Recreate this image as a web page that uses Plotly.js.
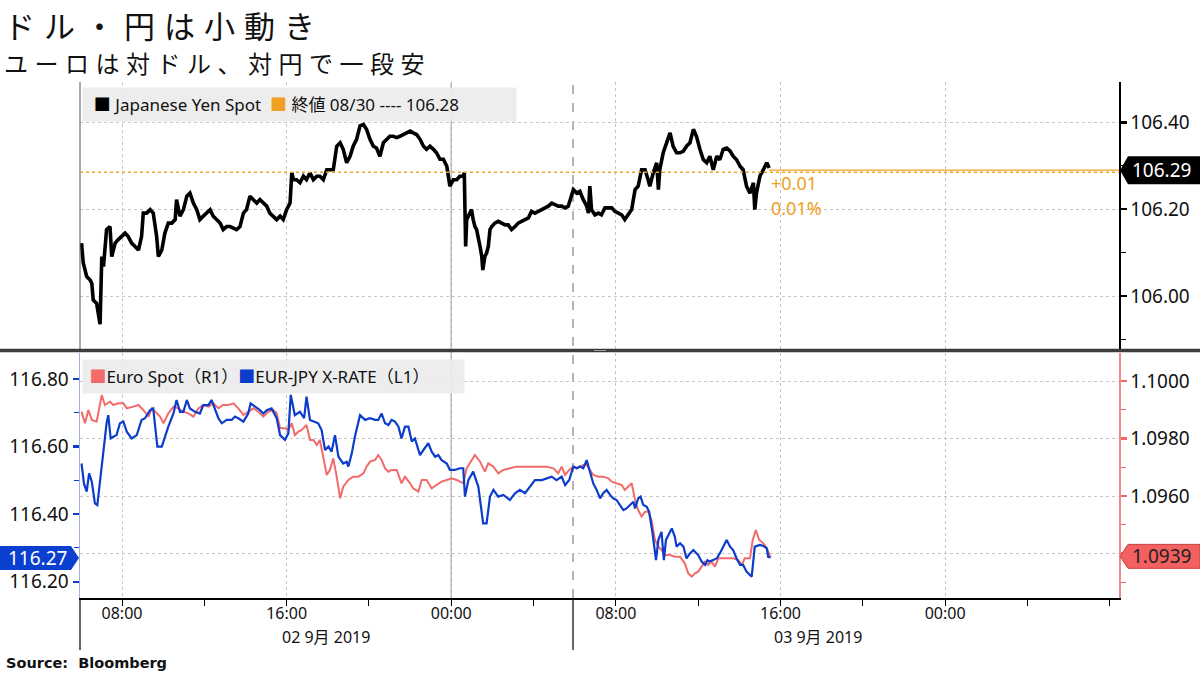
<!DOCTYPE html>
<html><head><meta charset="utf-8">
<script src="https://cdn.plot.ly/plotly-3.0.1.min.js"></script>
<style>html,body{margin:0;padding:0;background:#fff;}#chart{width:1200px;height:675px;}</style>
</head><body><div id="chart"></div>
<script>
// ---------------- DATA ----------------
const usdjpyTime = [
'2019-09-02 06:02','2019-09-02 06:07','2019-09-02 06:17','2019-09-02 06:27','2019-09-02 06:32','2019-09-02 06:36','2019-09-02 06:46','2019-09-02 06:56','2019-09-02 07:01','2019-09-02 07:06',
'2019-09-02 07:15','2019-09-02 07:25','2019-09-02 07:30','2019-09-02 07:40','2019-09-02 07:49','2019-09-02 07:59','2019-09-02 08:09','2019-09-02 08:18','2019-09-02 08:28','2019-09-02 08:38',
'2019-09-02 08:48','2019-09-02 08:57','2019-09-02 09:02','2019-09-02 09:12','2019-09-02 09:22','2019-09-02 09:31','2019-09-02 09:41','2019-09-02 09:46','2019-09-02 09:56','2019-09-02 10:05',
'2019-09-02 10:15','2019-09-02 10:25','2019-09-02 10:35','2019-09-02 10:39','2019-09-02 10:49','2019-09-02 10:59','2019-09-02 11:09','2019-09-02 11:18','2019-09-02 11:28','2019-09-02 11:38',
'2019-09-02 11:47','2019-09-02 11:57','2019-09-02 12:07','2019-09-02 12:17','2019-09-02 12:26','2019-09-02 12:36','2019-09-02 12:46','2019-09-02 12:55','2019-09-02 13:05','2019-09-02 13:15',
'2019-09-02 13:25','2019-09-02 13:34','2019-09-02 13:44','2019-09-02 13:54','2019-09-02 14:03','2019-09-02 14:13','2019-09-02 14:23','2019-09-02 14:33','2019-09-02 14:42','2019-09-02 14:52',
'2019-09-02 15:02','2019-09-02 15:11','2019-09-02 15:21','2019-09-02 15:31','2019-09-02 15:41','2019-09-02 15:50','2019-09-02 16:00','2019-09-02 16:10','2019-09-02 16:15','2019-09-02 16:20',
'2019-09-02 16:29','2019-09-02 16:39','2019-09-02 16:49','2019-09-02 16:58','2019-09-02 17:08','2019-09-02 17:18','2019-09-02 17:28','2019-09-02 17:37','2019-09-02 17:47','2019-09-02 17:57',
'2019-09-02 18:06','2019-09-02 18:16','2019-09-02 18:26','2019-09-02 18:36','2019-09-02 18:45','2019-09-02 18:55','2019-09-02 19:05','2019-09-02 19:14','2019-09-02 19:24','2019-09-02 19:34',
'2019-09-02 19:44','2019-09-02 19:53','2019-09-02 20:03','2019-09-02 20:13','2019-09-02 20:22','2019-09-02 20:32','2019-09-02 20:42','2019-09-02 20:52','2019-09-02 21:01','2019-09-02 21:11',
'2019-09-02 21:21','2019-09-02 21:30','2019-09-02 21:40','2019-09-02 21:50','2019-09-02 22:00','2019-09-02 22:09','2019-09-02 22:19','2019-09-02 22:29','2019-09-02 22:39','2019-09-02 22:48',
'2019-09-02 22:58','2019-09-02 23:08','2019-09-02 23:17','2019-09-02 23:27','2019-09-02 23:37','2019-09-02 23:47','2019-09-02 23:56',
'2019-09-03 00:06','2019-09-03 00:16','2019-09-03 00:25','2019-09-03 00:35','2019-09-03 00:38','2019-09-03 00:42','2019-09-03 00:45','2019-09-03 00:55','2019-09-03 00:59','2019-09-03 01:04',
'2019-09-03 01:09','2019-09-03 01:14','2019-09-03 01:19','2019-09-03 01:24','2019-09-03 01:29','2019-09-03 01:32','2019-09-03 01:38','2019-09-03 01:43','2019-09-03 01:48','2019-09-03 01:53',
'2019-09-03 01:58','2019-09-03 02:07','2019-09-03 02:17','2019-09-03 02:27','2019-09-03 02:37','2019-09-03 02:46','2019-09-03 02:56','2019-09-03 03:06','2019-09-03 03:15','2019-09-03 03:25',
'2019-09-03 03:35','2019-09-03 03:45','2019-09-03 03:54','2019-09-03 04:04','2019-09-03 04:14','2019-09-03 04:24','2019-09-03 04:33','2019-09-03 04:43','2019-09-03 04:53','2019-09-03 05:02',
'2019-09-03 05:12','2019-09-03 05:22','2019-09-03 05:32','2019-09-03 05:41','2019-09-03 05:51','2019-09-03 05:56','2019-09-03 06:06','2019-09-03 06:15','2019-09-03 06:25','2019-09-03 06:35',
'2019-09-03 06:40','2019-09-03 06:44','2019-09-03 06:49','2019-09-03 06:59','2019-09-03 07:09','2019-09-03 07:18','2019-09-03 07:28','2019-09-03 07:38','2019-09-03 07:48','2019-09-03 07:57',
'2019-09-03 08:07','2019-09-03 08:17','2019-09-03 08:26','2019-09-03 08:36','2019-09-03 08:46','2019-09-03 08:56','2019-09-03 09:05','2019-09-03 09:15','2019-09-03 09:25','2019-09-03 09:34',
'2019-09-03 09:39','2019-09-03 09:49','2019-09-03 09:59','2019-09-03 10:04','2019-09-03 10:08','2019-09-03 10:18','2019-09-03 10:28','2019-09-03 10:38','2019-09-03 10:47','2019-09-03 10:57',
'2019-09-03 11:07','2019-09-03 11:17','2019-09-03 11:26','2019-09-03 11:36','2019-09-03 11:46','2019-09-03 11:55','2019-09-03 12:05','2019-09-03 12:15','2019-09-03 12:25','2019-09-03 12:34',
'2019-09-03 12:44','2019-09-03 12:54','2019-09-03 13:03','2019-09-03 13:13','2019-09-03 13:23','2019-09-03 13:33','2019-09-03 13:42','2019-09-03 13:52','2019-09-03 14:02','2019-09-03 14:11',
'2019-09-03 14:21','2019-09-03 14:31','2019-09-03 14:41','2019-09-03 14:45','2019-09-03 14:50','2019-09-03 15:00','2019-09-03 15:10','2019-09-03 15:20','2019-09-03 15:27'
];
const usdjpyValue = [
106.122,106.076,106.045,106.037,106.029,105.991,105.983,105.935,106.091,106.068,
106.153,106.160,106.091,106.122,106.130,106.137,106.145,106.137,106.122,106.114,
106.106,106.137,106.191,106.191,106.199,106.191,106.137,106.091,106.106,106.145,
106.168,106.168,106.176,106.222,106.184,106.199,106.230,106.237,106.214,106.199,
106.176,106.184,106.191,106.199,106.184,106.176,106.168,106.153,106.160,106.160,
106.157,106.153,106.160,106.191,106.199,106.230,106.222,106.214,106.222,106.214,
106.207,106.191,106.184,106.176,106.184,106.176,106.199,106.214,106.284,106.268,
106.268,106.261,106.276,106.268,106.284,106.268,106.276,106.276,106.268,106.291,
106.291,106.291,106.345,106.353,106.338,106.307,106.322,106.345,106.361,106.392,
106.395,106.384,106.361,106.345,106.341,106.322,106.353,106.361,106.368,106.368,
106.365,106.368,106.372,106.376,106.380,106.376,106.372,106.361,106.345,106.338,
106.345,106.338,106.330,106.315,106.315,106.299,106.253,
106.268,106.268,106.276,106.276,106.284,106.114,106.176,106.191,106.199,106.176,
106.160,106.153,106.137,106.114,106.091,106.060,106.091,106.099,106.114,106.153,
106.160,106.168,106.172,106.168,106.164,106.164,106.153,106.160,106.168,106.172,
106.176,106.180,106.195,106.191,106.195,106.199,106.203,106.207,106.214,106.210,
106.207,106.207,106.203,106.207,106.237,106.245,106.237,106.241,106.222,106.207,
106.191,106.253,106.199,106.187,106.191,106.187,106.203,106.203,106.203,106.195,
106.191,106.187,106.176,106.187,106.199,106.245,106.253,106.291,106.291,106.268,
106.253,106.284,106.307,106.245,106.291,106.330,106.353,106.376,106.345,106.330,
106.330,106.334,106.345,106.353,106.384,106.368,106.338,106.314,106.307,106.322,
106.291,106.322,106.314,106.338,106.341,106.334,106.322,106.314,106.299,106.291,
106.253,106.237,106.261,106.199,106.237,106.276,106.291,106.307,106.295
];

const eurjpyTime = [
'2019-09-02 06:02','2019-09-02 06:09','2019-09-02 06:17','2019-09-02 06:24','2019-09-02 06:32','2019-09-02 06:41','2019-09-02 06:48','2019-09-02 06:56','2019-09-02 07:06','2019-09-02 07:15',
'2019-09-02 07:20','2019-09-02 07:27','2019-09-02 07:35','2019-09-02 07:44','2019-09-02 07:54','2019-09-02 08:04','2019-09-02 08:14','2019-09-02 08:28','2019-09-02 08:43','2019-09-02 08:57',
'2019-09-02 09:07','2019-09-02 09:22','2019-09-02 09:31','2019-09-02 09:43','2019-09-02 09:56','2019-09-02 10:05','2019-09-02 10:15','2019-09-02 10:30','2019-09-02 10:39','2019-09-02 10:49',
'2019-09-02 10:59','2019-09-02 11:09','2019-09-02 11:18','2019-09-02 11:33','2019-09-02 11:47','2019-09-02 11:57','2019-09-02 12:12','2019-09-02 12:21','2019-09-02 12:31','2019-09-02 12:41',
'2019-09-02 12:51','2019-09-02 13:05','2019-09-02 13:20','2019-09-02 13:29','2019-09-02 13:39','2019-09-02 13:54','2019-09-02 14:08','2019-09-02 14:15','2019-09-02 14:28','2019-09-02 14:42',
'2019-09-02 14:52','2019-09-02 15:02','2019-09-02 15:16','2019-09-02 15:31','2019-09-02 15:41','2019-09-02 15:55','2019-09-02 16:05','2019-09-02 16:12','2019-09-02 16:24','2019-09-02 16:39',
'2019-09-02 16:51','2019-09-02 16:58','2019-09-02 17:08','2019-09-02 17:23','2019-09-02 17:32','2019-09-02 17:42','2019-09-02 17:52','2019-09-02 18:02','2019-09-02 18:11','2019-09-02 18:21',
'2019-09-02 18:31','2019-09-02 18:45','2019-09-02 18:55','2019-09-02 19:00','2019-09-02 19:10','2019-09-02 19:19','2019-09-02 19:34','2019-09-02 19:49','2019-09-02 20:03','2019-09-02 20:18',
'2019-09-02 20:27','2019-09-02 20:37','2019-09-02 20:47','2019-09-02 20:57','2019-09-02 21:06','2019-09-02 21:16','2019-09-02 21:26','2019-09-02 21:35','2019-09-02 21:45','2019-09-02 21:55',
'2019-09-02 22:05','2019-09-02 22:14','2019-09-02 22:29','2019-09-02 22:39','2019-09-02 22:53','2019-09-02 23:03','2019-09-02 23:13','2019-09-02 23:22','2019-09-02 23:32','2019-09-02 23:47',
'2019-09-02 23:56',
'2019-09-03 00:11','2019-09-03 00:25','2019-09-03 00:35','2019-09-03 00:40','2019-09-03 00:50','2019-09-03 01:04','2019-09-03 01:19','2019-09-03 01:33','2019-09-03 01:43','2019-09-03 01:53',
'2019-09-03 02:03','2019-09-03 02:17','2019-09-03 02:32','2019-09-03 02:51','2019-09-03 03:06','2019-09-03 03:20','2019-09-03 03:35','2019-09-03 03:49','2019-09-03 04:04','2019-09-03 04:24',
'2019-09-03 04:38','2019-09-03 04:53','2019-09-03 05:07','2019-09-03 05:22','2019-09-03 05:32','2019-09-03 05:44',
'2019-09-03 05:56','2019-09-03 06:06','2019-09-03 06:15','2019-09-03 06:25','2019-09-03 06:35','2019-09-03 06:44','2019-09-03 06:54','2019-09-03 07:04','2019-09-03 07:14','2019-09-03 07:23',
'2019-09-03 07:33','2019-09-03 07:43','2019-09-03 07:52','2019-09-03 08:02','2019-09-03 08:12','2019-09-03 08:22','2019-09-03 08:31','2019-09-03 08:41','2019-09-03 08:51','2019-09-03 08:56',
'2019-09-03 09:05','2019-09-03 09:12','2019-09-03 09:20','2019-09-03 09:30','2019-09-03 09:37','2019-09-03 09:47','2019-09-03 09:57','2019-09-03 10:04','2019-09-03 10:13','2019-09-03 10:20',
'2019-09-03 10:26','2019-09-03 10:33','2019-09-03 10:43','2019-09-03 10:52','2019-09-03 10:57','2019-09-03 11:07','2019-09-03 11:17','2019-09-03 11:26','2019-09-03 11:36','2019-09-03 11:46',
'2019-09-03 12:00','2019-09-03 12:10','2019-09-03 12:20','2019-09-03 12:27','2019-09-03 12:32','2019-09-03 12:42','2019-09-03 12:54','2019-09-03 13:03','2019-09-03 13:13','2019-09-03 13:23',
'2019-09-03 13:33','2019-09-03 13:42','2019-09-03 13:52','2019-09-03 14:02','2019-09-03 14:11','2019-09-03 14:21','2019-09-03 14:36','2019-09-03 14:45','2019-09-03 15:00','2019-09-03 15:10',
'2019-09-03 15:20','2019-09-03 15:24','2019-09-03 15:31'
];
const eurjpyValue = [
116.550,116.491,116.467,116.521,116.496,116.432,116.427,116.501,116.600,116.669,
116.693,116.624,116.629,116.634,116.669,116.674,116.644,116.624,116.634,116.679,
116.684,116.708,116.713,116.600,116.600,116.629,116.659,116.698,116.738,116.703,
116.703,116.738,116.713,116.703,116.698,116.723,116.723,116.738,116.713,116.684,
116.669,116.679,116.679,116.689,116.684,116.674,116.698,116.728,116.718,116.708,
116.698,116.708,116.713,116.684,116.634,116.620,116.639,116.753,116.693,116.703,
116.684,116.748,116.679,116.674,116.669,116.649,116.590,116.600,116.585,116.634,
116.570,116.550,116.555,116.541,116.580,116.629,116.693,116.679,116.684,116.679,
116.679,116.698,116.669,116.664,116.679,116.674,116.659,116.624,116.659,116.659,
116.615,116.624,116.575,116.590,116.610,116.585,116.570,116.575,116.560,116.550,
116.531,
116.531,116.536,116.536,116.452,116.501,116.526,116.481,116.373,116.373,116.452,
116.472,116.452,116.457,116.442,116.462,116.472,116.462,116.481,116.501,116.501,
116.506,116.511,116.501,116.511,116.486,116.501,
116.541,116.536,116.541,116.536,116.560,116.526,116.491,116.472,116.447,116.462,
116.472,116.457,116.447,116.442,116.427,116.412,116.417,116.427,116.437,116.417,
116.447,116.452,116.427,116.422,116.407,116.343,116.264,116.324,116.348,116.264,
116.324,116.338,116.358,116.333,116.304,116.314,116.304,116.269,116.284,116.294,
116.279,116.260,116.250,116.264,116.260,116.264,116.269,116.284,116.304,116.324,
116.304,116.294,116.269,116.250,116.250,116.230,116.215,116.304,116.309,116.306,
116.299,116.274,116.272
];

const eurusdTime = [
'2019-09-02 06:02','2019-09-02 06:12','2019-09-02 06:22','2019-09-02 06:32','2019-09-02 06:46','2019-09-02 07:01','2019-09-02 07:10','2019-09-02 07:25','2019-09-02 07:35','2019-09-02 07:49',
'2019-09-02 08:04','2019-09-02 08:14','2019-09-02 08:33','2019-09-02 08:48','2019-09-02 09:02','2019-09-02 09:17','2019-09-02 09:27','2019-09-02 09:41','2019-09-02 09:51','2019-09-02 10:01',
'2019-09-02 10:15','2019-09-02 10:30','2019-09-02 10:44','2019-09-02 10:59','2019-09-02 11:13','2019-09-02 11:28','2019-09-02 11:43','2019-09-02 11:57','2019-09-02 12:12','2019-09-02 12:26',
'2019-09-02 12:41','2019-09-02 12:55','2019-09-02 13:10','2019-09-02 13:25','2019-09-02 13:39','2019-09-02 13:54','2019-09-02 14:08','2019-09-02 14:23','2019-09-02 14:37','2019-09-02 14:52',
'2019-09-02 15:07','2019-09-02 15:21','2019-09-02 15:31','2019-09-02 15:41','2019-09-02 15:55','2019-09-02 16:05','2019-09-02 16:15','2019-09-02 16:24','2019-09-02 16:34','2019-09-02 16:44',
'2019-09-02 16:58','2019-09-02 17:08','2019-09-02 17:18','2019-09-02 17:28','2019-09-02 17:37','2019-09-02 17:47','2019-09-02 17:57','2019-09-02 18:06','2019-09-02 18:16','2019-09-02 18:26',
'2019-09-02 18:36','2019-09-02 18:45','2019-09-02 19:00','2019-09-02 19:14','2019-09-02 19:29','2019-09-02 19:44','2019-09-02 19:53','2019-09-02 20:03','2019-09-02 20:18','2019-09-02 20:27',
'2019-09-02 20:37','2019-09-02 20:47','2019-09-02 20:57','2019-09-02 21:06','2019-09-02 21:21','2019-09-02 21:35','2019-09-02 21:45','2019-09-02 22:00','2019-09-02 22:09','2019-09-02 22:24',
'2019-09-02 22:34','2019-09-02 22:48','2019-09-02 23:03','2019-09-02 23:17','2019-09-02 23:32','2019-09-02 23:47',
'2019-09-03 00:01','2019-09-03 00:16','2019-09-03 00:35','2019-09-03 00:45','2019-09-03 00:59','2019-09-03 01:09','2019-09-03 01:24','2019-09-03 01:38','2019-09-03 01:48','2019-09-03 02:03',
'2019-09-03 02:17','2019-09-03 02:32','2019-09-03 02:51','2019-09-03 03:11','2019-09-03 03:40','2019-09-03 04:09','2019-09-03 04:38','2019-09-03 04:58','2019-09-03 05:12','2019-09-03 05:22',
'2019-09-03 05:32','2019-09-03 05:44',
'2019-09-03 05:56','2019-09-03 06:06','2019-09-03 06:15','2019-09-03 06:25','2019-09-03 06:35','2019-09-03 06:44','2019-09-03 06:54','2019-09-03 07:09','2019-09-03 07:23','2019-09-03 07:38',
'2019-09-03 07:48','2019-09-03 08:02','2019-09-03 08:17','2019-09-03 08:26','2019-09-03 08:36','2019-09-03 08:46','2019-09-03 08:56','2019-09-03 09:05','2019-09-03 09:15','2019-09-03 09:25',
'2019-09-03 09:35','2019-09-03 09:44','2019-09-03 09:54','2019-09-03 10:04','2019-09-03 10:13','2019-09-03 10:23','2019-09-03 10:38','2019-09-03 10:52','2019-09-03 11:07','2019-09-03 11:21',
'2019-09-03 11:31','2019-09-03 11:41','2019-09-03 11:51','2019-09-03 12:00','2019-09-03 12:10','2019-09-03 12:20','2019-09-03 12:29','2019-09-03 12:39','2019-09-03 12:49','2019-09-03 12:59',
'2019-09-03 13:13','2019-09-03 13:28','2019-09-03 13:42','2019-09-03 13:57','2019-09-03 14:07','2019-09-03 14:16','2019-09-03 14:31','2019-09-03 14:39','2019-09-03 14:48','2019-09-03 14:58',
'2019-09-03 15:10','2019-09-03 15:20','2019-09-03 15:31'
];
const eurusdValue = [
1.098934,1.098528,1.098992,1.098644,1.098586,1.099513,1.099165,1.099281,1.099165,1.099223,
1.099223,1.099050,1.099108,1.099165,1.098992,1.098760,1.099050,1.098876,1.098760,1.098528,
1.098876,1.099108,1.099050,1.098934,1.098876,1.098760,1.099050,1.099165,1.099108,1.099223,
1.099050,1.099165,1.099165,1.099223,1.099050,1.098818,1.098934,1.099050,1.098934,1.098760,
1.098934,1.098992,1.098876,1.098354,1.098354,1.098296,1.098528,1.098122,1.098238,1.098296,
1.098470,1.097948,1.097948,1.097774,1.097948,1.097368,1.096731,1.096905,1.097310,1.096673,
1.095919,1.096325,1.096557,1.096673,1.096673,1.096789,1.097021,1.097194,1.097252,1.097426,
1.097252,1.096963,1.096847,1.096905,1.096905,1.096441,1.096673,1.096441,1.096267,1.096151,
1.096557,1.096557,1.096267,1.096383,1.096499,1.096557,
1.096615,1.096557,1.096441,1.096963,1.097252,1.097426,1.097194,1.096847,1.097136,1.097021,
1.096789,1.096905,1.096963,1.097021,1.097021,1.097021,1.097021,1.096963,1.096789,1.097021,
1.096731,1.096905,
1.097020,1.096963,1.097020,1.097078,1.097078,1.096905,1.096731,1.096673,1.096673,1.096615,
1.096499,1.096441,1.096383,1.096209,1.096325,1.096441,1.095861,1.095513,1.095281,1.095455,
1.095455,1.095165,1.094470,1.094238,1.094122,1.093948,1.093948,1.093890,1.093890,1.093658,
1.093310,1.093194,1.093310,1.093368,1.093542,1.093716,1.093600,1.093716,1.093542,1.093832,
1.093832,1.093832,1.093832,1.093774,1.093600,1.093832,1.093832,1.094470,1.094818,1.094470,
1.094354,1.094180,1.093867
];

const prevClose = 106.285;          // 終値 08/30 (shown as 106.28)
const lastUsdJpy = 106.29;
const lastEurJpy = 116.27;
const lastEurUsd = 1.0939;
const lastTagText = {usdjpy:'106.29', eurjpy:'116.27', eurusd:'1.0939'};
const changeText = ['+0.01', '0.01%'];
const xTickVals = ['2019-09-02 08:00','2019-09-02 16:00','2019-09-03 00:00','2019-09-03 08:00','2019-09-03 16:00','2019-09-04 00:00'];
const xTickText = ['08:00','16:00','00:00','08:00','16:00','00:00'];
const dateLabels = ['02 9月 2019','03 9月 2019'];
const eurusdTickVals = [1.0940, 1.0960, 1.0980, 1.1000];
const eurusdTickText = ['', '1.0960', '1.0980', '1.1000'];   // 1.0940 hidden behind the last-value tag
const dayBreak = '2019-09-03 00:00';
const sessionBreak = '2019-09-03 05:55';
const xRange = ['2019-09-02 05:57:30','2019-09-04 08:27'];

// ---------------- LAYOUT HELPERS ----------------
const W = 1200, H = 675, ML = 80, MR = 81, MT = 82, MB = 77;
const PW = W - ML - MR, PH = H - MT - MB;
const px = x => (x - ML) / PW;
const py = y => (H - MB - y) / PH;

const BLUE = '#0c3ccc', RED = '#f26b6b', ORANGE = '#f0a023', GRID = '#c6c6c6';
const FONT = 'Noto Sans, Noto Sans CJK JP, sans-serif';
const CJK = 'Noto Sans CJK JP, Noto Sans, sans-serif';

const traces = [
  {x: usdjpyTime, y: usdjpyValue, xaxis:'x', yaxis:'y', type:'scatter', mode:'lines',
   line:{color:'#000', width:3.6}},
  {x: eurusdTime, y: eurusdValue, xaxis:'x', yaxis:'y2', type:'scatter', mode:'lines',
   line:{color:RED, width:2}},
  {x: eurjpyTime, y: eurjpyValue, xaxis:'x', yaxis:'y3', type:'scatter', mode:'lines',
   line:{color:BLUE, width:2.2}}
];

const shapes = [
  {type:'line', xref:'x', yref:'paper', x0:dayBreak, x1:dayBreak, y0:0, y1:1, layer:'below',
   line:{color:'#b0b0b0', width:1.5}},
  {type:'line', xref:'x', yref:'paper', x0:sessionBreak, x1:sessionBreak, y0:0, y1:1, layer:'below',
   line:{color:'#8c8c8c', width:1.3, dash:'dash'}},
  {type:'line', xref:'x', yref:'paper', x0:sessionBreak, x1:sessionBreak, y0:py(650), y1:0,
   line:{color:'#000', width:1.2}},
  {type:'line', xref:'paper', yref:'paper', x0:0, x1:0, y0:py(650), y1:0, line:{color:'#000', width:1.2}},
  {type:'line', xref:'paper', yref:'paper', x0:0, x1:0, y0:py(349), y1:1, line:{color:'#555', width:1}},
  {type:'line', xref:'paper', yref:'y', x0:0, x1:1, y0:prevClose, y1:prevClose,
   line:{color:ORANGE, width:1.6, dash:'dot'}},
  {type:'line', xref:'x', yref:'y', x0:usdjpyTime[usdjpyTime.length-1], x1:xRange[1], y0:lastUsdJpy, y1:lastUsdJpy,
   line:{color:ORANGE, width:1.3}},
  {type:'line', xref:'paper', yref:'paper', x0:px(0), x1:px(1200), y0:py(350.5), y1:py(350.5),
   line:{color:'#3c3c3c', width:3.5}},
  {type:'line', xref:'paper', yref:'paper', x0:px(594), x1:px(606), y0:py(350.5), y1:py(350.5),
   line:{color:'#9a9a9a', width:1}},
  {type:'path', xref:'paper', yref:'y', xsizemode:'pixel', ysizemode:'pixel', xanchor:1, yanchor:lastUsdJpy,
   path:'M1,0 L9,14 L81,14 L81,-14 L9,-14 Z', fillcolor:'#000', line:{width:0}},
  {type:'path', xref:'paper', yref:'y3', xsizemode:'pixel', ysizemode:'pixel', xanchor:0, yanchor:lastEurJpy,
   path:'M-1,0 L-9,12 L-81,12 L-81,-12 L-9,-12 Z', fillcolor:'#0b3fcf', line:{width:0}},
  {type:'path', xref:'paper', yref:'y2', xsizemode:'pixel', ysizemode:'pixel', xanchor:1, yanchor:lastEurUsd,
   path:'M1,0 L9,12 L81,12 L81,-12 L9,-12 Z', fillcolor:'#f26060', line:{color:'#c94040', width:1}}
];

const sq = c => '<span style="color:' + c + '">■</span>';
const TITLE = 'ドル・円は小動き';
const SUBTITLE = 'ユーロは対ドル、対円で一段安';
const annotations = [
  {xref:'paper', yref:'paper', x:px(2), y:py(24), xanchor:'left', yanchor:'middle', showarrow:false,
   text:TITLE, font:{family:CJK, size:31, color:'#111'}},
  {xref:'paper', yref:'paper', x:px(2), y:py(63), xanchor:'left', yanchor:'middle', showarrow:false,
   text:SUBTITLE, font:{family:CJK, size:24, color:'#111'}},
  {xref:'paper', yref:'paper', x:px(4), y:py(663), xanchor:'left', yanchor:'middle', showarrow:false,
   text:'<b>Source:  Bloomberg</b>', font:{family:'DejaVu Sans, sans-serif', size:14.5, color:'#111'}},
  {xref:'paper', yref:'paper', x:px(82), y:py(104.5), xanchor:'left', yanchor:'middle', showarrow:false,
   align:'left', width:429, height:29, borderpad:2, bgcolor:'rgba(236,236,236,0.92)',
   text:'\u00a0\u00a0' + sq('#000') + '\u00a0Japanese Yen Spot\u00a0\u00a0' + sq(ORANGE) + '\u00a0終値 08/30 ---- 106.28',
   font:{family:FONT, size:17, color:'#111'}},
  {xref:'paper', yref:'paper', x:px(82), y:py(376.5), xanchor:'left', yanchor:'middle', showarrow:false,
   align:'left', width:377, height:29, borderpad:2, bgcolor:'rgba(236,236,236,0.92)',
   text:'\u00a0' + sq(RED) + 'Euro Spot（R1）' + sq(BLUE) + 'EUR-JPY X-RATE（L1）',
   font:{family:FONT, size:17, color:'#111'}},
  {xref:'paper', yref:'paper', x:px(769), y:py(183), xanchor:'left', yanchor:'middle', showarrow:false,
   text:changeText[0], font:{family:FONT, size:18, color:ORANGE}},
  {xref:'paper', yref:'paper', x:px(769), y:py(208), xanchor:'left', yanchor:'middle', showarrow:false,
   text:changeText[1], font:{family:FONT, size:18, color:ORANGE}},
  {xref:'paper', yref:'y', x:px(1161), y:lastUsdJpy, xanchor:'center', yanchor:'middle', showarrow:false,
   text:lastTagText.usdjpy, font:{family:FONT, size:19, color:'#fff'}},
  {xref:'paper', yref:'y3', x:px(37), y:lastEurJpy, xanchor:'center', yanchor:'middle', showarrow:false,
   text:lastTagText.eurjpy, font:{family:FONT, size:19, color:'#fff'}},
  {xref:'paper', yref:'y2', x:px(1161), y:lastEurUsd, xanchor:'center', yanchor:'middle', showarrow:false,
   text:lastTagText.eurusd, font:{family:FONT, size:19, color:'#222'}},
  {xref:'paper', yref:'paper', x:px(326), y:py(637), xanchor:'center', yanchor:'middle', showarrow:false,
   text:dateLabels[0], font:{family:FONT, size:16, color:'#111'}},
  {xref:'paper', yref:'paper', x:px(818), y:py(637), xanchor:'center', yanchor:'middle', showarrow:false,
   text:dateLabels[1], font:{family:FONT, size:16, color:'#111'}}
];

const layout = {
  width:W, height:H,
  margin:{l:ML, r:MR, t:MT, b:MB, pad:0},
  paper_bgcolor:'#fff', plot_bgcolor:'#fff',
  showlegend:false,
  font:{family:FONT, size:16, color:'#111'},
  xaxis:{type:'date', range:xRange, anchor:'y2', domain:[0,1],
    showline:true, linecolor:'#000', linewidth:1.5,
    tickmode:'array', tickvals:xTickVals, ticktext:xTickText,
    ticks:'outside', ticklen:6, tickcolor:'#000', tickwidth:1, ticklabelstandoff:-6,
    showgrid:true, gridcolor:GRID, griddash:'dot', gridwidth:1, zeroline:false,
    minor:{tickmode:'linear', tick0:'2019-09-02 00:00', dtick:4*3600*1000, ticks:'outside', ticklen:6, tickcolor:'#000', showgrid:false},
    tickfont:{family:FONT, size:16, color:'#111'}},
  yaxis:{domain:[py(349),1], anchor:'x', side:'right', range:[105.878,106.493],
    tickmode:'linear', tick0:0, dtick:0.2, tickformat:'.2f',
    showline:true, linecolor:'#000', linewidth:1.5,
    ticks:'outside', ticklen:6, tickwidth:2.5, tickcolor:'#000',
    minor:{tickmode:'linear', tick0:0, dtick:0.1, ticks:'outside', ticklen:5, tickwidth:1, tickcolor:'#000', showgrid:false},
    showgrid:true, gridcolor:GRID, griddash:'dot', zeroline:false,
    tickfont:{family:FONT, size:19, color:'#111'}},
  yaxis2:{domain:[0,py(353)], anchor:'x', side:'right', range:[1.092452,1.100974],
    tickmode:'array', tickvals:eurusdTickVals, ticktext:eurusdTickText,
    showline:true, linecolor:'#f08a8a', linewidth:1.5,
    ticks:'outside', ticklen:6, tickwidth:2.5, tickcolor:'#f06a6a',
    minor:{tickmode:'linear', tick0:0, dtick:0.001, ticks:'outside', ticklen:5, tickwidth:1, tickcolor:'#f06a6a', showgrid:false},
    showgrid:true, gridcolor:GRID, griddash:'dot', zeroline:false,
    tickfont:{family:FONT, size:19, color:'#111'}},
  yaxis3:{overlaying:'y2', anchor:'x', side:'left', range:[116.152,116.877],
    tickmode:'linear', tick0:0, dtick:0.2, tickformat:'.2f',
    showline:true, linecolor:'#9fb0e6', linewidth:1.5,
    ticks:'outside', ticklen:6, tickwidth:2.5, tickcolor:BLUE,
    minor:{tickmode:'linear', tick0:0, dtick:0.1, ticks:'outside', ticklen:5, tickwidth:1, tickcolor:BLUE, showgrid:false},
    showgrid:false, zeroline:false,
    tickfont:{family:FONT, size:19, color:'#111'}},
  shapes:shapes,
  annotations:annotations
};

Plotly.newPlot('chart', traces, layout, {staticPlot:true, displayModeBar:false}).then(function () {
  // widen the headline letter spacing (original typesetting is looser), keeping the left edge fixed
  const spacing = {};
  spacing[TITLE] = 9;
  spacing[SUBTITLE] = 6.5;
  document.querySelectorAll('.annotation-text').forEach(function (t) {
    const s = spacing[t.textContent];
    if (s === undefined) return;
    const left = t.getBBox().x;
    t.setAttribute('text-anchor', 'start');
    t.setAttribute('x', left);
    t.querySelectorAll('tspan').forEach(function (ts) { if (ts.hasAttribute('x')) ts.setAttribute('x', left); });
    t.setAttribute('letter-spacing', s + 'px');
  });
});
</script>
</body></html>
